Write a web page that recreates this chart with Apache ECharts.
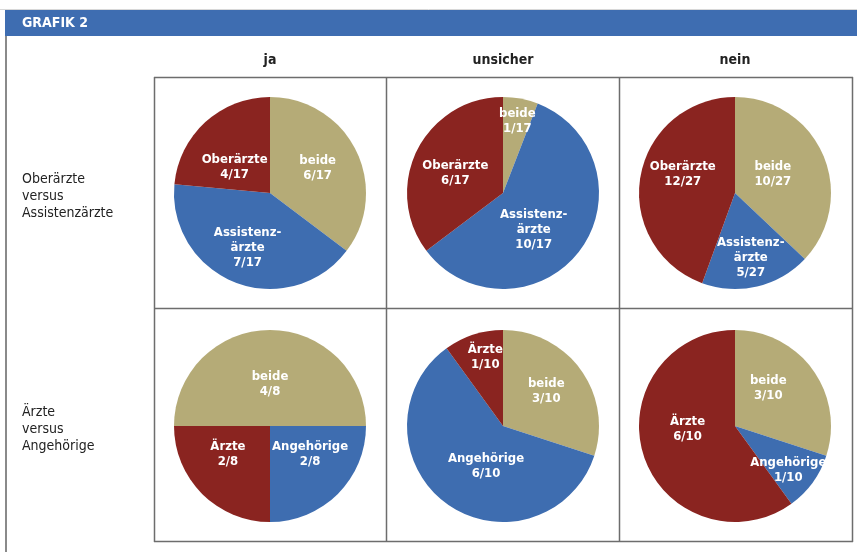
<!DOCTYPE html>
<html lang="de">
<head>
<meta charset="UTF-8">
<title>Grafik 2</title>
<script src="https://cdn.jsdelivr.net/npm/echarts@6/dist/echarts.min.js"></script>
<style>
  html, body { margin: 0; padding: 0; background: #fff; }
  #chart { width: 857px; height: 552px; }
</style>
</head>
<body>
<div id="chart"></div>
<script>
// Spalten (Antwort) und Zeilen (Vergleich)
const columns = ['ja', 'unsicher', 'nein'];
const rowLabels = ['Oberärzte\nversus\nAssistenzärzte', 'Ärzte\nversus\nAngehörige'];

// Kategorien je Zeile, in Zeichenreihenfolge (im Uhrzeigersinn)
const groupsRow1 = ['beide', 'Assistenzärzte', 'Oberärzte'];
const groupsRow2 = ['beide', 'Angehörige', 'Ärzte'];

// Anzahl Nennungen je Zelle: [ja, unsicher, nein]
const row1Values = [[6, 7, 4], [1, 10, 6], [10, 5, 12]];
const row2Values = [[4, 2, 2], [3, 6, 1], [3, 1, 6]];

// Beschriftung in der Grafik (Silbentrennung wie im Original)
const labelNames = {
  'beide': 'beide',
  'Assistenzärzte': 'Assistenz-\närzte',
  'Oberärzte': 'Oberärzte',
  'Angehörige': 'Angehörige',
  'Ärzte': 'Ärzte'
};

const colors = { 'beide': '#b5ab77', 'Assistenzärzte': '#3e6db0', 'Angehörige': '#3e6db0', 'Oberärzte': '#8a2420', 'Ärzte': '#8a2420' };

const FONT = '"Liberation Sans Narrow", "DejaVu Sans Condensed", "Roboto Condensed", Arial, sans-serif';

// Layout
const colX = [270, 503, 735];
const rowY = [193, 426];
const radius = 96;
const startAngles = [[90, 90, 90], [180, 90, 90]];
// Verschiebungen der Beschriftungen gegenüber der Standardlage (Pixel)
const labelShift = {
  '0-0-beide': [2, -2],
  '0-0-Oberärzte': [-1, 12],
  '0-0-Assistenzärzte': [-4, 7],
  '0-1-beide': [5, -22],
  '0-1-Oberärzte': [-2, 3],
  '0-1-Assistenzärzte': [-10, 6],
  '0-2-Oberärzte': [-2, -10],
  '0-2-beide': [-9, 1],
  '0-2-Assistenzärzte': [4, 15],
  '1-0-beide': [0, 9],
  '1-0-Ärzte': [-6, -8],
  '1-0-Angehörige': [4, -8],
  '1-1-Ärzte': [-2, -20],
  '1-1-beide': [2, -5],
  '1-1-Angehörige': [13, -1],
  '1-2-beide': [-8, -8],
  '1-2-Ärzte': [1, -13],
  '1-2-Angehörige': [12, 14]
};

const series = [];
[[groupsRow1, row1Values], [groupsRow2, row2Values]].forEach(([groups, values], r) => {
  values.forEach((vals, c) => {
    const total = vals.reduce((a, b) => a + b, 0);
    series.push({
      type: 'pie',
      center: [colX[c], rowY[r]],
      radius: radius,
      startAngle: startAngles[r][c],
      clockwise: true,
      silent: true,
      animation: false,
      labelLine: { show: false },
      itemStyle: { borderWidth: 0 },
      label: {
        show: true,
        position: 'inside',
        color: '#fff',
        fontFamily: FONT,
        fontWeight: 'bold',
        fontSize: 13,
        lineHeight: 15,
        formatter: p => labelNames[p.name] + '\n' + p.value + '/' + total
      },
      data: groups.map((g, i) => {
        const item = { name: g, value: vals[i], itemStyle: { color: colors[g] } };
        const key = r + '-' + c + '-' + g;
        if (labelShift[key]) item.label = { offset: labelShift[key] };
        return item;
      })
    });
  });
});

// Tabellenrahmen
const gridLeft = 154, gridRight = 852, gridTop = 77, gridBottom = 541;
const vLines = [gridLeft, 386, 619, gridRight];
const hLines = [gridTop, 308, gridBottom];
const graphics = [];
graphics.push({ type: 'rect', shape: { x: 5, y: 10, width: 852, height: 26 }, style: { fill: '#3e6db1' } });
graphics.push({ type: 'line', shape: { x1: 0, y1: 9.5, x2: 857, y2: 9.5 }, style: { stroke: '#d8d8d8', lineWidth: 1 } });
graphics.push({ type: 'line', shape: { x1: 6, y1: 36, x2: 6, y2: 552 }, style: { stroke: '#8a8a8a', lineWidth: 2 } });
graphics.push({ type: 'text', x: 22, y: 23, style: { text: 'GRAFIK 2', fill: '#fff', font: 'bold 14px ' + FONT, textVerticalAlign: 'middle' } });
vLines.forEach(x => graphics.push({ type: 'line', shape: { x1: x + 0.5, y1: gridTop, x2: x + 0.5, y2: gridBottom + 1 }, style: { stroke: '#6d6d6d', lineWidth: 1.5 } }));
hLines.forEach(y => graphics.push({ type: 'line', shape: { x1: gridLeft, y1: y + 0.5, x2: gridRight + 1, y2: y + 0.5 }, style: { stroke: '#6d6d6d', lineWidth: 1.5 } }));
columns.forEach((t, i) => graphics.push({ type: 'text', x: colX[i], y: 60, style: { text: t, fill: '#222', font: 'bold 14px ' + FONT, textAlign: 'center', textVerticalAlign: 'middle' } }));
rowLabels.forEach((t, i) => graphics.push({ type: 'text', x: 22, y: rowY[i] + 3, style: { text: t, fill: '#222', font: '14px ' + FONT, lineHeight: 17, textVerticalAlign: 'middle' } }));

const chart = echarts.init(document.getElementById('chart'), null, { renderer: 'canvas' });
chart.setOption({
  backgroundColor: '#fff',
  animation: false,
  graphic: graphics,
  series: series
});
</script>
</body>
</html>
